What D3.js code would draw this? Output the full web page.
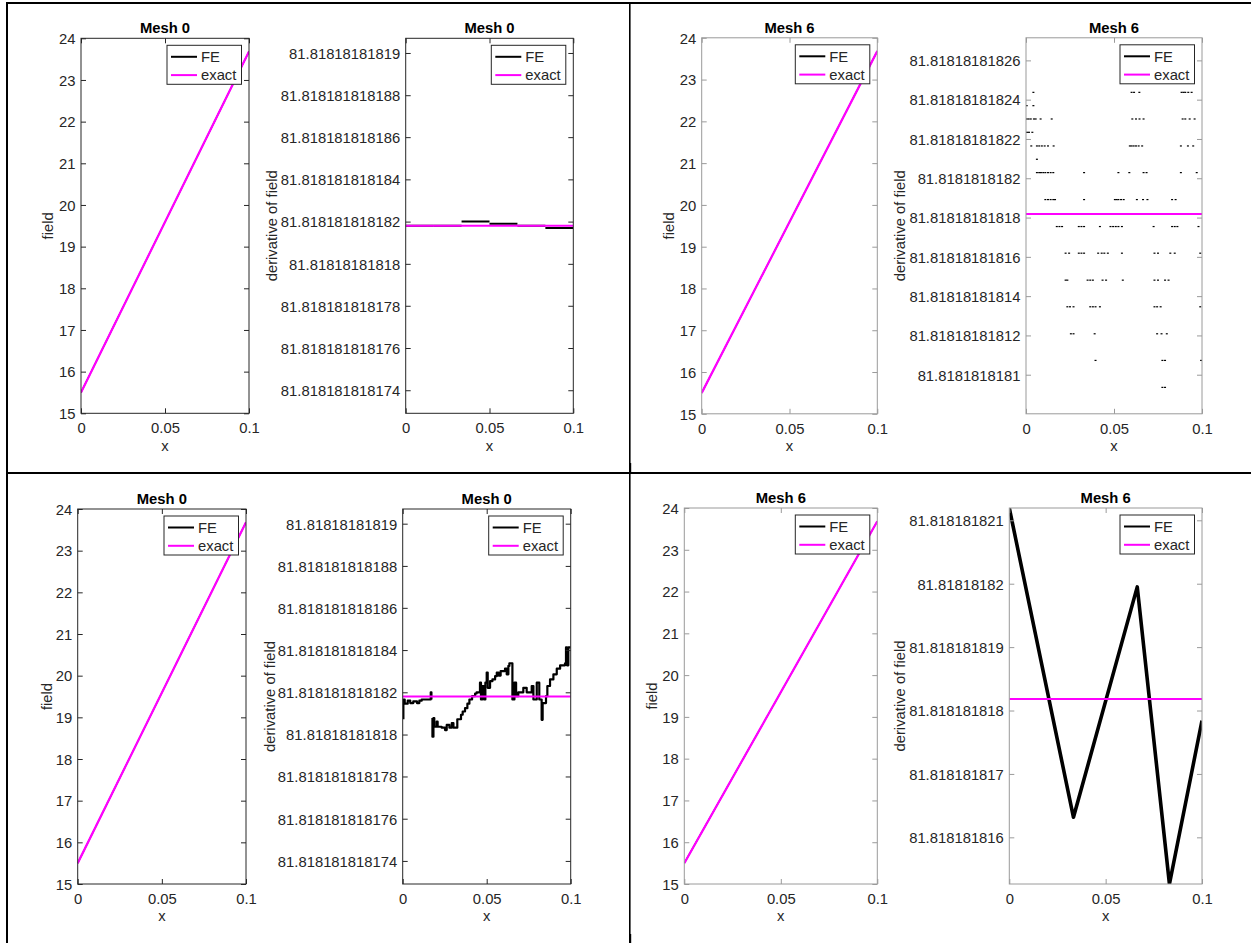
<!DOCTYPE html>
<html>
<head>
<meta charset="utf-8">
<script src="https://cdn.jsdelivr.net/npm/d3@7"></script>
<style>
  body { margin: 0; background: #fff; }
  svg { display: block; }
  text { font-family: "Liberation Sans", Arial, Helvetica, sans-serif; }
</style>
</head>
<body>
<svg id="fig" width="1251" height="943"></svg>
<script>
// ---------- shared axis ticks ----------
const xTicks = [0, 0.05, 0.1];
const xTickLabels = ["0", "0.05", "0.1"];
const fieldTicks = [15, 16, 17, 18, 19, 20, 21, 22, 23, 24];
const fieldTickLabels = ["15", "16", "17", "18", "19", "20", "21", "22", "23", "24"];

// derivative tick labels (mesh 0 panels)
const derivTickLabelsM0 = ["81.81818181819", "81.818181818188", "81.818181818186", "81.818181818184",
  "81.818181818182", "81.81818181818", "81.818181818178", "81.818181818176", "81.818181818174"];
// derivative tick labels (mesh 6, top)
const derivTickLabelsM6a = ["81.81818181826", "81.81818181824", "81.81818181822", "81.8181818182",
  "81.81818181818", "81.81818181816", "81.81818181814", "81.81818181812", "81.8181818181"];
// derivative tick labels (mesh 6, bottom)
const derivTickLabelsM6b = ["81.818181821", "81.81818182", "81.818181819", "81.818181818",
  "81.818181817", "81.818181816"];

// ---------- field (solution) ----------
const fieldNodesX = [0, 0.0166667, 0.0333333, 0.05, 0.0666667, 0.0833333, 0.1];
const fieldFE = [15.5, 16.8636, 18.2273, 19.5909, 20.9545, 22.3182, 23.6818];
const fieldExactX = [0, 0.1];
const fieldExact = [15.5, 23.6818];

// ---------- exact derivative ----------
const derivExactX = [0, 0.1];
const derivExact = [81.8181818181818, 81.8181818181818];

// ---------- mesh 0, top: element-wise constant derivative ----------
const mesh0Edges = [0, 0.0166667, 0.0333333, 0.05, 0.0666667, 0.0833333, 0.1];
const mesh0DerivTop = [81.8181818181818, 81.8181818181818, 81.8181818181820,
  81.8181818181819, 81.8181818181818, 81.8181818181817];

// ---------- mesh 6, top: derivative samples on discrete levels ----------
const mesh6Levels = [81.81818181824373, 81.81818181823695, 81.81818181823017, 81.81818181822339,
  81.81818181821644, 81.81818181820966, 81.81818181820288, 81.81818181818915, 81.81818181817542,
  81.81818181816186, 81.81818181814813, 81.81818181813457, 81.81818181812084, 81.81818181810728,
  81.81818181809355];
const mesh6LevelX = [
  [0.0042, 0.0600, 0.0614, 0.0644, 0.0884, 0.0895, 0.0905, 0.0922, 0.0941],
  [0.0004, 0.0042],
  [0.0004, 0.0015, 0.0027, 0.0045, 0.0055, 0.0083, 0.0146, 0.0604, 0.0625, 0.0645, 0.0668, 0.0890, 0.0905, 0.0930, 0.0958],
  [0.0006, 0.0017, 0.0036],
  [0.0030, 0.0062, 0.0075, 0.0090, 0.0106, 0.0125, 0.0157, 0.0590, 0.0600, 0.0612, 0.0625, 0.0640, 0.0660, 0.0880, 0.0920, 0.0950],
  [0.0062],
  [0.0062, 0.0075, 0.0085, 0.0098, 0.0110, 0.0125, 0.0140, 0.0155, 0.0330, 0.0525, 0.0587, 0.0668, 0.0685, 0.0880, 0.0970],
  [0.0110, 0.0125, 0.0140, 0.0155, 0.0165, 0.0330, 0.0505, 0.0515, 0.0525, 0.0540, 0.0555, 0.0630, 0.0665, 0.0690, 0.0830, 0.0850],
  [0.0175, 0.0190, 0.0205, 0.0300, 0.0315, 0.0330, 0.0420, 0.0480, 0.0495, 0.0510, 0.0525, 0.0545, 0.0725, 0.0830, 0.0845, 0.0860, 0.0980],
  [0.0225, 0.0245, 0.0300, 0.0315, 0.0330, 0.0410, 0.0430, 0.0445, 0.0465, 0.0545, 0.0730, 0.0750, 0.0820, 0.0845, 0.0990],
  [0.0225, 0.0235, 0.0350, 0.0365, 0.0380, 0.0435, 0.0455, 0.0550, 0.0730, 0.0750, 0.0790, 0.0810],
  [0.0235, 0.0250, 0.0270, 0.0365, 0.0380, 0.0395, 0.0420, 0.0730, 0.0745, 0.0765, 0.0990],
  [0.0255, 0.0270, 0.0390, 0.0745, 0.0770, 0.0800],
  [0.0395, 0.0775, 0.0790, 0.0995],
  [0.0775, 0.0790]
];

// ---------- mesh 0, bottom: noisy derivative trace (null = break) ----------
const mesh0BotX = [
  0.0004, 0.0004, 0.0012, 0.0012, 0.0030, 0.0030, 0.0045, 0.0045, 0.0063, 0.0063, 0.0085, 0.0085,
  0.0099, 0.0099, 0.0113, 0.0113, 0.0167, 0.0167, 0.0171, 0.0171, null,
  0.0177, 0.0177, 0.0183, 0.0183, 0.0188, 0.0188, 0.0202, 0.0202, 0.0208, 0.0208, 0.0232, 0.0232,
  0.0252, 0.0252, 0.0262, 0.0262, 0.0278, 0.0278, 0.0292, 0.0292, 0.0302, 0.0302, 0.0325, 0.0325,
  0.0347, 0.0347, 0.0357, 0.0357, 0.0371, 0.0371, 0.0385, 0.0385, 0.0397, 0.0397, 0.0413, 0.0413,
  0.0431, 0.0431, 0.0440, 0.0440, 0.0460, 0.0460, 0.0466, 0.0466, 0.0474, 0.0474, 0.0484, 0.0484,
  0.0492, 0.0492, 0.0500, 0.0500, 0.0506, 0.0506, 0.0520, 0.0520, 0.0534, 0.0534, 0.0550, 0.0550,
  0.0560, 0.0560, 0.0571, 0.0571, 0.0583, 0.0583, 0.0609, 0.0609, 0.0619, 0.0619, 0.0629, 0.0629,
  0.0635, 0.0635, 0.0653, 0.0653, 0.0665, 0.0665, 0.0675, 0.0675, 0.0688, 0.0688, 0.0718, 0.0718,
  0.0738, 0.0738, 0.0768, 0.0768, 0.0778, 0.0778, 0.0798, 0.0798, 0.0813, 0.0813, 0.0827, 0.0827,
  0.0833, 0.0833, 0.0853, 0.0853, 0.0861, 0.0861, 0.0877, 0.0877, 0.0897, 0.0897, 0.0917, 0.0917,
  0.0937, 0.0937, 0.0966, 0.0966, 0.0972, 0.0972, 0.0978, 0.0978, 0.0986, 0.0986, 0.1000
];
const mesh0BotV = [
  81.81818181818072, 81.81818181818165, 81.81818181818165, 81.81818181818146, 81.81818181818146, 81.81818181818160,
  81.81818181818160, 81.81818181818149, 81.81818181818149, 81.81818181818157, 81.81818181818157, 81.81818181818149,
  81.81818181818149, 81.81818181818160, 81.81818181818160, 81.81818181818165, 81.81818181818165, 81.81818181818200,
  81.81818181818200, 81.81818181818165, null,
  81.81818181818077, 81.81818181817989, 81.81818181817989, 81.81818181818077, 81.81818181818077, 81.81818181818037,
  81.81818181818037, 81.81818181818061, 81.81818181818061, 81.81818181818037, 81.81818181818037, 81.81818181818032,
  81.81818181818032, 81.81818181818021, 81.81818181818021, 81.81818181818045, 81.81818181818045, 81.81818181818032,
  81.81818181818032, 81.81818181818053, 81.81818181818053, 81.81818181818032, 81.81818181818032, 81.81818181818072,
  81.81818181818072, 81.81818181818093, 81.81818181818093, 81.81818181818109, 81.81818181818109, 81.81818181818125,
  81.81818181818125, 81.81818181818146, 81.81818181818146, 81.81818181818165, 81.81818181818165, 81.81818181818181,
  81.81818181818181, 81.81818181818194, 81.81818181818194, 81.81818181818200, 81.81818181818200, 81.81818181818245,
  81.81818181818245, 81.81818181818165, 81.81818181818165, 81.81818181818229, 81.81818181818229, 81.81818181818165,
  81.81818181818165, 81.81818181818245, 81.81818181818245, 81.81818181818293, 81.81818181818293, 81.81818181818221,
  81.81818181818221, 81.81818181818253, 81.81818181818253, 81.81818181818261, 81.81818181818261, 81.81818181818277,
  81.81818181818277, 81.81818181818293, 81.81818181818293, 81.81818181818280, 81.81818181818280, 81.81818181818301,
  81.81818181818301, 81.81818181818312, 81.81818181818312, 81.81818181818285, 81.81818181818285, 81.81818181818325,
  81.81818181818325, 81.81818181818338, 81.81818181818338, 81.81818181818165, 81.81818181818165, 81.81818181818245,
  81.81818181818245, 81.81818181818181, 81.81818181818181, 81.81818181818200, 81.81818181818200, 81.81818181818221,
  81.81818181818221, 81.81818181818200, 81.81818181818200, 81.81818181818229, 81.81818181818229, 81.81818181818165,
  81.81818181818165, 81.81818181818245, 81.81818181818245, 81.81818181818165, 81.81818181818165, 81.81818181818069,
  81.81818181818069, 81.81818181818149, 81.81818181818149, 81.81818181818181, 81.81818181818181, 81.81818181818229,
  81.81818181818229, 81.81818181818261, 81.81818181818261, 81.81818181818285, 81.81818181818285, 81.81818181818312,
  81.81818181818312, 81.81818181818328, 81.81818181818328, 81.81818181818338, 81.81818181818338, 81.81818181818413,
  81.81818181818413, 81.81818181818328, 81.81818181818328, 81.81818181818413, 81.81818181818413
];

// ---------- mesh 6, bottom: derivative trace ----------
const mesh6BotX = [0, 0.0333, 0.0664, 0.0831, 0.1];
const mesh6BotV = [81.8181818211940, 81.8181818163160, 81.8181818199500, 81.8181818152640, 81.8181818178400];

// ---------- drawing ----------
const svg = d3.select("#fig");
const TEXT = "#262626";
const MAGENTA = "#ff00ff";
const FONT = "14.8px";
let clipId = 0;

function drawAxes(cfg) {
  const g = svg.append("g");
  const x = d3.scaleLinear().domain([0, 0.1]).range([cfg.l, cfg.r]);
  const y = d3.scaleLinear().domain(cfg.yDomain).range([cfg.b, cfg.t]);
  const tick = 5;
  const axisColor = cfg.axisColor;

  // plot area background
  g.append("rect").attr("x", cfg.l).attr("y", cfg.t)
    .attr("width", cfg.r - cfg.l).attr("height", cfg.b - cfg.t).attr("fill", "#fff");

  const id = "clip" + (clipId++);
  g.append("clipPath").attr("id", id).append("rect")
    .attr("x", cfg.l).attr("y", cfg.t).attr("width", cfg.r - cfg.l).attr("height", cfg.b - cfg.t);
  const plot = g.append("g").attr("clip-path", `url(#${id})`);

  // series drawn in order (FE first, exact on top)
  cfg.draw(plot, x, y);

  // axes
  const styleAxis = (sel, showText) => {
    sel.select(".domain").remove();
    sel.selectAll(".tick line").attr("stroke", axisColor).attr("stroke-width", 1);
    sel.selectAll(".tick text").attr("fill", TEXT).style("font-size", FONT)
      .style("display", showText ? null : "none");
  };
  g.append("g").attr("transform", `translate(0,${cfg.b})`)
    .call(d3.axisBottom(x).tickValues(xTicks).tickFormat((d, i) => xTickLabels[i])
      .tickSize(-tick).tickPadding(9.5))
    .call(s => styleAxis(s, true));
  g.append("g").attr("transform", `translate(0,${cfg.t})`)
    .call(d3.axisTop(x).tickValues(xTicks).tickSize(-tick))
    .call(s => styleAxis(s, false));
  g.append("g").attr("transform", `translate(${cfg.l},0)`)
    .call(d3.axisLeft(y).tickValues(cfg.yTicks).tickFormat((d, i) => cfg.yTickLabels[i])
      .tickSize(-tick).tickPadding(5.5))
    .call(s => styleAxis(s, true))
    .call(s => s.selectAll(".tick text").attr("dy", "0.36em"));
  g.append("g").attr("transform", `translate(${cfg.r},0)`)
    .call(d3.axisRight(y).tickValues(cfg.yTicks).tickSize(-tick))
    .call(s => styleAxis(s, false));

  // box
  g.append("rect").attr("x", cfg.l).attr("y", cfg.t)
    .attr("width", cfg.r - cfg.l).attr("height", cfg.b - cfg.t)
    .attr("fill", "none").attr("stroke", axisColor).attr("stroke-width", 1);

  // texts
  g.append("text").attr("x", (cfg.l + cfg.r) / 2).attr("y", cfg.t - 5.2)
    .attr("text-anchor", "middle").attr("fill", "#000").style("font-size", FONT)
    .style("font-weight", "bold").text(cfg.title);
  g.append("text").attr("x", (cfg.l + cfg.r) / 2).attr("y", cfg.b + 37.4)
    .attr("text-anchor", "middle").attr("fill", TEXT).style("font-size", FONT).text("x");
  g.append("text")
    .attr("transform", `translate(${cfg.yLabelX},${(cfg.t + cfg.b) / 2}) rotate(-90)`)
    .attr("text-anchor", "middle").attr("fill", TEXT).style("font-size", FONT).text(cfg.yLabel);

  // legend
  const lw = 74.5, lh = 39;
  const lx = cfg.r - 7.5 - lw, ly = cfg.t + 7;
  const lg = g.append("g");
  lg.append("rect").attr("x", lx).attr("y", ly).attr("width", lw).attr("height", lh)
    .attr("fill", "#fff").attr("stroke", TEXT).attr("stroke-width", 1);
  [["FE", "#000"], ["exact", MAGENTA]].forEach(([name, c], i) => {
    const ry = ly + 11.5 + i * 18.3;
    lg.append("line").attr("x1", lx + 4).attr("x2", lx + 30).attr("y1", ry).attr("y2", ry)
      .attr("stroke", c).attr("stroke-width", 2);
    lg.append("text").attr("x", lx + 34).attr("y", ry + 5.2).attr("fill", TEXT)
      .style("font-size", FONT).text(name);
  });
  return { x, y };
}

function linePath(plot, xs, ys, x, y, color, width) {
  const pts = xs.map((d, i) => [d, ys[i]]);
  plot.append("path").datum(pts)
    .attr("d", d3.line().defined(p => p[0] !== null && p[1] !== null).x(p => x(p[0])).y(p => y(p[1])))
    .attr("fill", "none").attr("stroke", color).attr("stroke-width", width)
    .attr("stroke-linejoin", "round");
}

function drawField(plot, x, y) {
  linePath(plot, fieldNodesX, fieldFE, x, y, "#000", 1.3);
  linePath(plot, fieldExactX, fieldExact, x, y, MAGENTA, 2.2);
}
function drawExactDeriv(plot, x, y) {
  linePath(plot, derivExactX, derivExact, x, y, MAGENTA, 2);
}

const derivDomainM0 = [81.8181818181729, 81.8181818181907];
const derivTicksM0 = derivTickLabelsM0.map(Number);
const derivTicksM6a = derivTickLabelsM6a.map(Number);
const derivTicksM6b = derivTickLabelsM6b.map(Number);

const DARK = "#262626", LIGHT = "#9a9a9a";

// ---- top-left block ----
drawAxes({ l: 81, r: 249, t: 38.3, b: 413.3, yDomain: [15, 24], yTicks: fieldTicks,
  yTickLabels: fieldTickLabels, title: "Mesh 0", yLabel: "field", yLabelX: 53.3, axisColor: DARK,
  draw: drawField });
drawAxes({ l: 405.7, r: 573.3, t: 38.3, b: 413.3, yDomain: derivDomainM0, yTicks: derivTicksM0,
  yTickLabels: derivTickLabelsM0, title: "Mesh 0", yLabel: "derivative of field", yLabelX: 277.3,
  axisColor: DARK,
  draw: (plot, x, y) => {
    mesh0DerivTop.forEach((v, i) => {
      linePath(plot, [mesh0Edges[i], mesh0Edges[i + 1]], [v, v], x, y, "#000", 2);
    });
    drawExactDeriv(plot, x, y);
  } });

// ---- top-right block ----
drawAxes({ l: 701.7, r: 877.3, t: 37.8, b: 413.8, yDomain: [15, 24], yTicks: fieldTicks,
  yTickLabels: fieldTickLabels, title: "Mesh 6", yLabel: "field", yLabelX: 674.4, axisColor: LIGHT,
  draw: drawField });
drawAxes({ l: 1026, r: 1202, t: 37.8, b: 413.8, yDomain: [81.8181818180801, 81.8181818182715],
  yTicks: derivTicksM6a, yTickLabels: derivTickLabelsM6a, title: "Mesh 6",
  yLabel: "derivative of field", yLabelX: 905, axisColor: LIGHT,
  draw: (plot, x, y) => {
    mesh6Levels.forEach((v, i) => {
      plot.selectAll(null).data(mesh6LevelX[i]).join("rect")
        .attr("x", d => x(d) - 1).attr("y", y(v) - 0.6)
        .attr("width", 2).attr("height", 1.2).attr("fill", "#000");
    });
    drawExactDeriv(plot, x, y);
  } });

// ---- bottom-left block ----
drawAxes({ l: 77.7, r: 246, t: 509, b: 884, yDomain: [15, 24], yTicks: fieldTicks,
  yTickLabels: fieldTickLabels, title: "Mesh 0", yLabel: "field", yLabelX: 51.7, axisColor: DARK,
  draw: drawField });
drawAxes({ l: 402.7, r: 570.7, t: 509, b: 884, yDomain: derivDomainM0, yTicks: derivTicksM0,
  yTickLabels: derivTickLabelsM0, title: "Mesh 0", yLabel: "derivative of field", yLabelX: 275,
  axisColor: DARK,
  draw: (plot, x, y) => {
    linePath(plot, mesh0BotX, mesh0BotV, x, y, "#000", 2.2);
    drawExactDeriv(plot, x, y);
  } });

// ---- bottom-right block ----
drawAxes({ l: 684.3, r: 877.3, t: 508, b: 884, yDomain: [15, 24], yTicks: fieldTicks,
  yTickLabels: fieldTickLabels, title: "Mesh 6", yLabel: "field", yLabelX: 657.3, axisColor: LIGHT,
  draw: drawField });
drawAxes({ l: 1009.3, r: 1202, t: 508, b: 884, yDomain: [81.818181815264, 81.818181821194],
  yTicks: derivTicksM6b, yTickLabels: derivTickLabelsM6b, title: "Mesh 6",
  yLabel: "derivative of field", yLabelX: 905, axisColor: LIGHT,
  draw: (plot, x, y) => {
    linePath(plot, mesh6BotX, mesh6BotV, x, y, "#000", 3.6);
    drawExactDeriv(plot, x, y);
  } });

// ---- grid frame separating the four blocks ----
const frame = svg.append("g").attr("stroke", "#000");
frame.append("line").attr("x1", 6).attr("x2", 1251).attr("y1", 3).attr("y2", 3).attr("stroke-width", 2);
frame.append("line").attr("x1", 7).attr("x2", 7).attr("y1", 2).attr("y2", 943).attr("stroke-width", 2);
frame.append("line").attr("x1", 629.8).attr("x2", 629.8).attr("y1", 2).attr("y2", 943).attr("stroke-width", 1.6);
frame.append("line").attr("x1", 6).attr("x2", 1251).attr("y1", 473).attr("y2", 473).attr("stroke-width", 2);
frame.append("rect").attr("x", 630).attr("y", 463).attr("width", 1.2).attr("height", 9).attr("fill", "#000").attr("stroke", "none");
frame.append("rect").attr("x", 630).attr("y", 934).attr("width", 1.2).attr("height", 9).attr("fill", "#000").attr("stroke", "none");
</script>
</body>
</html>
